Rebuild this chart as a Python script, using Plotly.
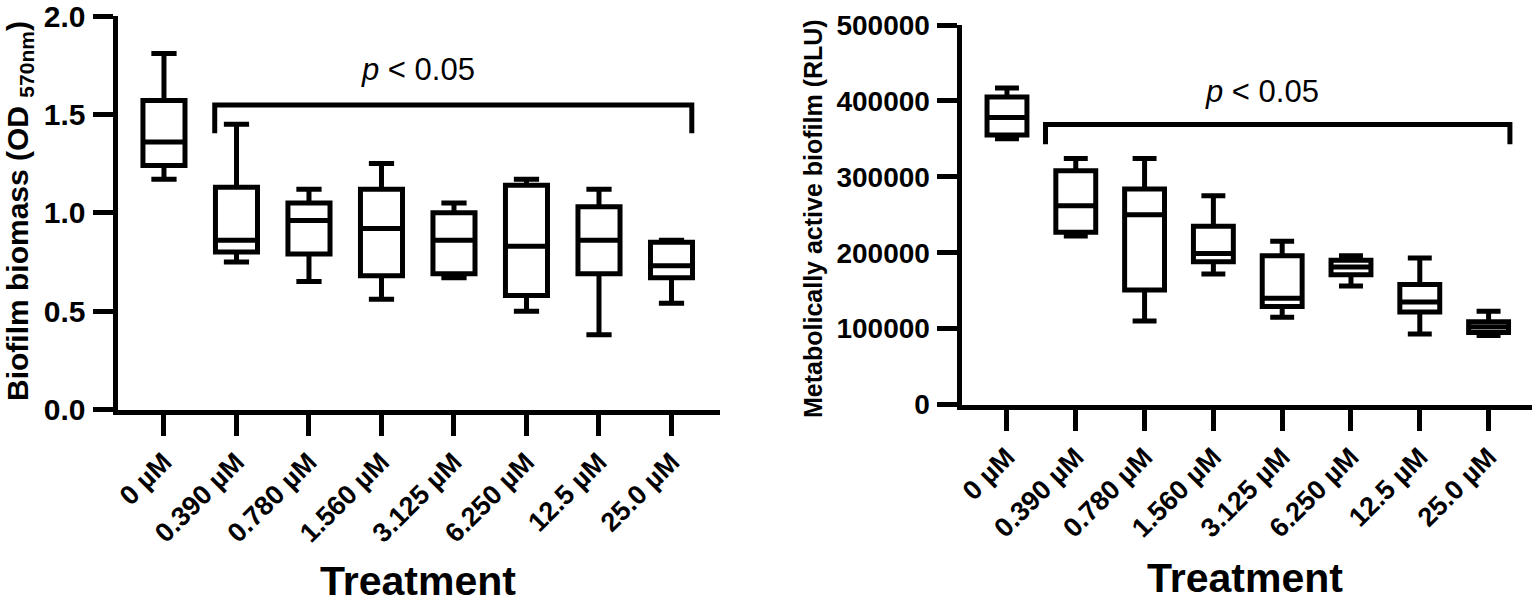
import plotly.graph_objects as go

# Treatment groups (same for both panels)
treatments = ["0 µM", "0.390 µM", "0.780 µM", "1.560 µM",
              "3.125 µM", "6.250 µM", "12.5 µM", "25.0 µM"]
positions = list(range(len(treatments)))

# Panel A: biofilm biomass (OD 570nm), box summaries
od_upper = [1.81, 1.45, 1.12, 1.25, 1.05, 1.17, 1.12, 0.86]
od_q3 = [1.57, 1.13, 1.05, 1.12, 1.00, 1.14, 1.03, 0.85]
od_median = [1.36, 0.86, 0.96, 0.92, 0.86, 0.83, 0.86, 0.73]
od_q1 = [1.24, 0.80, 0.79, 0.68, 0.69, 0.58, 0.69, 0.67]
od_lower = [1.17, 0.75, 0.65, 0.56, 0.67, 0.50, 0.38, 0.54]

# Panel B: metabolically active biofilm (RLU)
rlu_upper = [417000, 324000, 324000, 275000, 215000, 196000, 193000, 123000]
rlu_q3 = [405000, 308000, 284000, 235000, 196000, 190000, 158000, 109000]
rlu_median = [378000, 262000, 250000, 199000, 140000, 181000, 135000, 102000]
rlu_q1 = [355000, 227000, 151000, 188000, 129000, 171000, 122000, 95000]
rlu_lower = [350000, 222000, 110000, 172000, 115000, 156000, 93000, 91000]

# significance brackets: [x start, x end], [top, drop end]
od_bracket_x = [0.70, 7.28]
od_bracket_y = [1.548, 1.404]
rlu_bracket_x = [0.56, 7.31]
rlu_bracket_y = [369000, 343000]
od_label_pos = [3.5, 1.73]
rlu_label_pos = [3.7, 412000]

FONT = "Liberation Sans, Arial, Helvetica, sans-serif"
LW = 5

fig = go.Figure()


def add_boxes(q1, med, q3, lo, hi, xa, ya):
    fig.add_trace(go.Box(
        x=positions, q1=q1, median=med, q3=q3,
        lowerfence=lo, upperfence=hi,
        width=0.58, whiskerwidth=0.6,
        fillcolor="white", line=dict(color="black", width=LW),
        boxpoints=False, showlegend=False, hoverinfo="skip",
        xaxis=xa, yaxis=ya,
    ))


def add_bracket(bx, by, xa, ya):
    fig.add_trace(go.Scatter(
        x=[bx[0], bx[0], bx[1], bx[1]],
        y=[by[1], by[0], by[0], by[1]],
        mode="lines", line=dict(color="black", width=LW),
        showlegend=False, hoverinfo="skip", xaxis=xa, yaxis=ya,
    ))


add_boxes(od_q1, od_median, od_q3, od_lower, od_upper, "x", "y")
add_bracket(od_bracket_x, od_bracket_y, "x", "y")
add_boxes(rlu_q1, rlu_median, rlu_q3, rlu_lower, rlu_upper, "x2", "y2")
add_bracket(rlu_bracket_x, rlu_bracket_y, "x2", "y2")

W, H = 1535, 604

common_x = dict(
    tickvals=positions, ticktext=treatments, tickangle=-45,
    ticks="outside", ticklen=21, tickwidth=LW, tickcolor="black",
    showline=True, linewidth=LW, linecolor="black",
    showgrid=False, zeroline=False, automargin=False,
    ticklabeloverflow="allow",
    tickfont=dict(family=FONT, size=27, color="black", weight="bold"),
)
common_y = dict(
    ticks="outside", ticklen=20, tickwidth=LW, tickcolor="black",
    showline=True, linewidth=LW, linecolor="black",
    showgrid=False, zeroline=False, automargin=False, ticklabelstandoff=1,
    ticklabeloverflow="allow",
    tickfont=dict(family=FONT, size=30, color="black", weight="bold"),
)

fig.update_layout(
    width=W, height=H,
    margin=dict(l=0, r=0, t=0, b=0),
    plot_bgcolor="white", paper_bgcolor="white",
    font=dict(family=FONT, color="black"),
    xaxis=dict(common_x, domain=[117.5 / W, 720 / W], range=[-0.641, 7.669], anchor="y"),
    yaxis=dict(common_y, domain=[1 - 409.5 / H, 1 - 16 / H], range=[0, 2.0],
               dtick=0.5, tickformat=".1f", anchor="x"),
    xaxis2=dict(common_x, domain=[961.5 / W, 1532 / W], range=[-0.661, 7.631], anchor="y2"),
    yaxis2=dict(common_y, domain=[1 - 404.5 / H, 1 - 25 / H], range=[0, 500000],
                dtick=100000, tickformat="d", anchor="x2",
                tickfont=dict(family=FONT, size=28, color="black", weight="bold")),
)

annotations = [
    dict(text="<i>p</i> < 0.05", x=od_label_pos[0], y=od_label_pos[1],
         xref="x", yref="y", showarrow=False,
         font=dict(family=FONT, size=31, color="black")),
    dict(text="<i>p</i> < 0.05", x=rlu_label_pos[0], y=rlu_label_pos[1],
         xref="x2", yref="y2", showarrow=False,
         font=dict(family=FONT, size=31, color="black")),
    dict(text="<b>Treatment</b>", x=418 / W, y=1 - 581 / H,
         xref="paper", yref="paper", xanchor="center", yanchor="middle",
         showarrow=False, font=dict(family=FONT, size=41, color="black")),
    dict(text="<b>Treatment</b>", x=1245 / W, y=1 - 578 / H,
         xref="paper", yref="paper", xanchor="center", yanchor="middle",
         showarrow=False, font=dict(family=FONT, size=41, color="black")),
    dict(text="<b>Biofilm biomass (OD <sub>570nm</sub>)</b>", textangle=-90,
         x=19 / W, y=1 - 211 / H, xref="paper", yref="paper",
         xanchor="center", yanchor="middle", showarrow=False,
         font=dict(family=FONT, size=30, color="black")),
    dict(text="<b>Metabolically active biofilm (RLU)</b>", textangle=-90,
         x=813 / W, y=1 - 219 / H, xref="paper", yref="paper",
         xanchor="center", yanchor="middle", showarrow=False,
         font=dict(family=FONT, size=25, color="black")),
]
fig.update_layout(annotations=annotations)

# drop the page's default body margin so the figure sits at the window origin
fig.write_html("out.html", config={"displayModeBar": False},
               post_script="document.body.style.margin='0px';")
